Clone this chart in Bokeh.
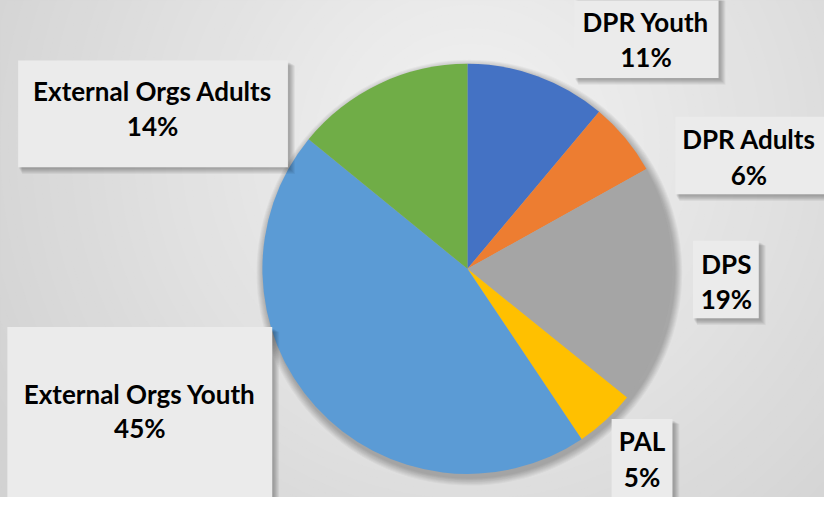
import numpy as np
from bokeh.plotting import figure
from bokeh.models import Range1d
from bokeh.core.properties import value
from bokeh.embed import file_html
from bokeh.resources import INLINE

# ---- data ----
categories = ["DPR Youth", "DPR Adults", "DPS", "PAL", "External Orgs Youth", "External Orgs Adults"]
shares = [11.1, 5.8, 18.9, 4.8, 45.3, 14.1]
colors = ["#4472C4", "#ED7D31", "#A5A5A5", "#FFC000", "#5B9BD5", "#70AD47"]
pct_labels = [f"{round(v)}%" for v in shares]

# ---- layout (pixel coordinates of the reference image) ----
W, H = 840, 513
cx, cy, R = 476, 277, 209
# label boxes: left, right, top, bottom (pixel y)
boxes = [
    (585, 732, -6, 80),
    (688, 846, 120, 200),
    (706, 773, 248, 328),
    (623, 685, 432, 520),
    (7, 277, 337, 520),
    (18, 293, 62, 172),
]
text_pos = [
    (658, 22, 58),
    (763, 143, 180),
    (740, 272, 308),
    (654, 455, 492),
    (142, 406, 441),
    (155, 93, 130),
]

def fy(y):
    return H - y

p = figure(width=824, height=497, x_range=Range1d(0, W), y_range=Range1d(0, H),
           output_backend="svg", toolbar_location=None, min_border=0)
p.axis.visible = False
p.grid.visible = False
p.outline_line_color = None
p.background_fill_color = "#d2d2d2"
p.border_fill_color = "#d2d2d2"

# background radial gradient
gx, gy = 480, 150
radii = np.arange(720, 0, -8)
for r in radii:
    t = min(r / 560.0, 1.0)
    g = int(round(243 - 33 * t))
    p.circle(x=[gx], y=[fy(gy)], radius=r, fill_color=f"#{g:02x}{g:02x}{g:02x}", line_color=None)

# pie shadow
for k in range(8):
    p.circle(x=[cx + 2], y=[fy(cy + 4)], radius=R + 8 - k, fill_color="black",
             fill_alpha=0.035, line_color=None)

# pie wedges
vals = np.array(shares, dtype=float)
cum = np.concatenate([[0], np.cumsum(vals)]) / vals.sum()
starts = np.pi / 2 - 2 * np.pi * cum[:-1]
ends = np.pi / 2 - 2 * np.pi * cum[1:]
p.wedge(x=[cx] * len(vals), y=[fy(cy)] * len(vals), radius=R,
        start_angle=list(starts), end_angle=list(ends), direction="clock",
        fill_color=colors, line_color=None)

# label boxes with shadow
for (l, r, t, b) in boxes:
    for k in range(6):
        p.quad(left=l + 1 + k * 0.6, right=r + 2 + k, top=fy(t + 2 + k * 0.6), bottom=fy(b + 2 + k),
               fill_color="black", fill_alpha=0.05, line_color=None)
    p.quad(left=l, right=r, top=fy(t), bottom=fy(b), fill_color="#ebebeb", line_color=None)

# texts
for name, pct, (tx, y1, y2) in zip(categories, pct_labels, text_pos):
    p.text(x=[tx], y=[fy(y1)], text=[name], text_font=value("Lato"), text_font_style="bold",
           text_font_size="26px", text_align="center", text_baseline="middle", text_color="black")
    p.text(x=[tx], y=[fy(y2)], text=[pct], text_font=value("Lato"), text_font_style="bold",
           text_font_size="26px", text_align="center", text_baseline="middle", text_color="black")

open("out.html", "w").write(file_html(p, INLINE))
